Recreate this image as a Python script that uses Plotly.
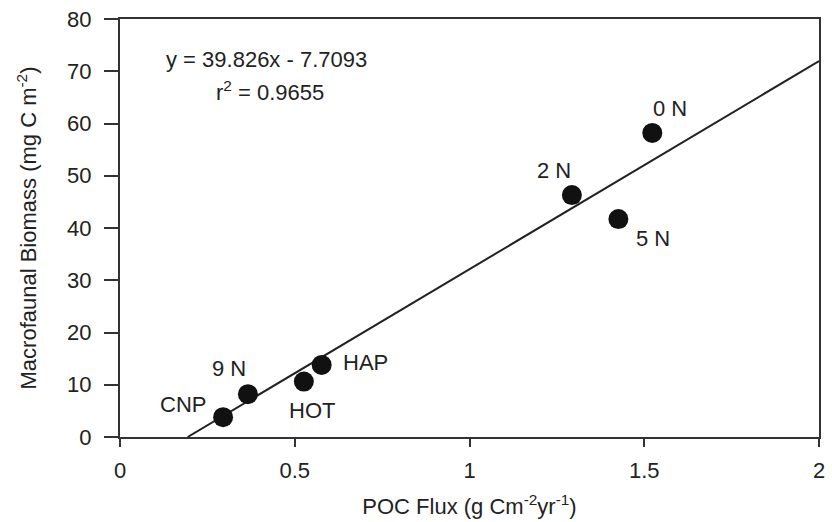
import plotly.graph_objects as go

# Data
sites = ["CNP", "9 N", "HOT", "HAP", "2 N", "5 N", "0 N"]
poc_flux = [0.295, 0.366, 0.526, 0.577, 1.293, 1.426, 1.523]
biomass = [3.8, 8.2, 10.6, 13.8, 46.3, 41.7, 58.2]
slope = 39.826
intercept = -7.7093
line_x = [-intercept / slope, 2.0]
line_y = [slope * x + intercept for x in line_x]

# label offsets (data units) for each site
label_dx = [-0.116, -0.054, 0.022, 0.125, -0.052, 0.099, 0.051]
label_dy = [2.5, 4.9, -5.5, 0.4, 4.7, -3.8, 4.7]

font = "Liberation Sans, Arial, sans-serif"
fs = 22

fig = go.Figure()
fig.add_trace(go.Scatter(x=line_x, y=line_y, mode="lines",
                         line=dict(color="#222222", width=2), hoverinfo="skip"))
fig.add_trace(go.Scatter(x=poc_flux, y=biomass, mode="markers",
                         marker=dict(color="#111111", size=20), text=sites))

for s, x, y, dx, dy in zip(sites, poc_flux, biomass, label_dx, label_dy):
    fig.add_annotation(x=x + dx, y=y + dy, text=s, showarrow=False,
                       font=dict(family=font, size=fs, color="#222222"))

fig.add_annotation(x=0.126, y=72.3, xanchor="left", text="y = 39.826x - 7.7093",
                   showarrow=False, font=dict(family=font, size=fs, color="#222222"))
fig.add_annotation(x=0.268, y=66.2, xanchor="left", text="r<sup>2</sup> = 0.9655",
                   showarrow=False, font=dict(family=font, size=fs, color="#222222"))

fig.update_layout(
    width=832, height=522,
    margin=dict(l=120, r=7, t=15, b=85),
    plot_bgcolor="white", paper_bgcolor="white",
    showlegend=False,
    font=dict(family=font, size=fs, color="#222222"),
    xaxis=dict(range=[0, 2], tickvals=[0, 0.5, 1, 1.5, 2], ticktext=["0", "0.5", "1", "1.5", "2"],
               showgrid=False, zeroline=False, showline=True, linecolor="#333333", linewidth=2,
               mirror=True, ticks="outside", ticklen=8, tickwidth=1.5, tickcolor="#333333",
               ticklabelstandoff=5,
               title=dict(text="POC Flux (g Cm<sup>-2</sup>yr<sup>-1</sup>)", standoff=16,
                          font=dict(size=fs))),
    yaxis=dict(range=[0, 80], tickvals=list(range(0, 81, 10)),
               showgrid=False, zeroline=False, showline=True, linecolor="#333333", linewidth=2,
               mirror=True, ticks="outside", ticklen=14, tickwidth=1.5, tickcolor="#333333",
               ticklabelstandoff=8,
               title=dict(text="Macrofaunal Biomass (mg C m<sup>-2</sup>)", standoff=24,
                          font=dict(size=fs))),
)

fig.write_html("out.html")
